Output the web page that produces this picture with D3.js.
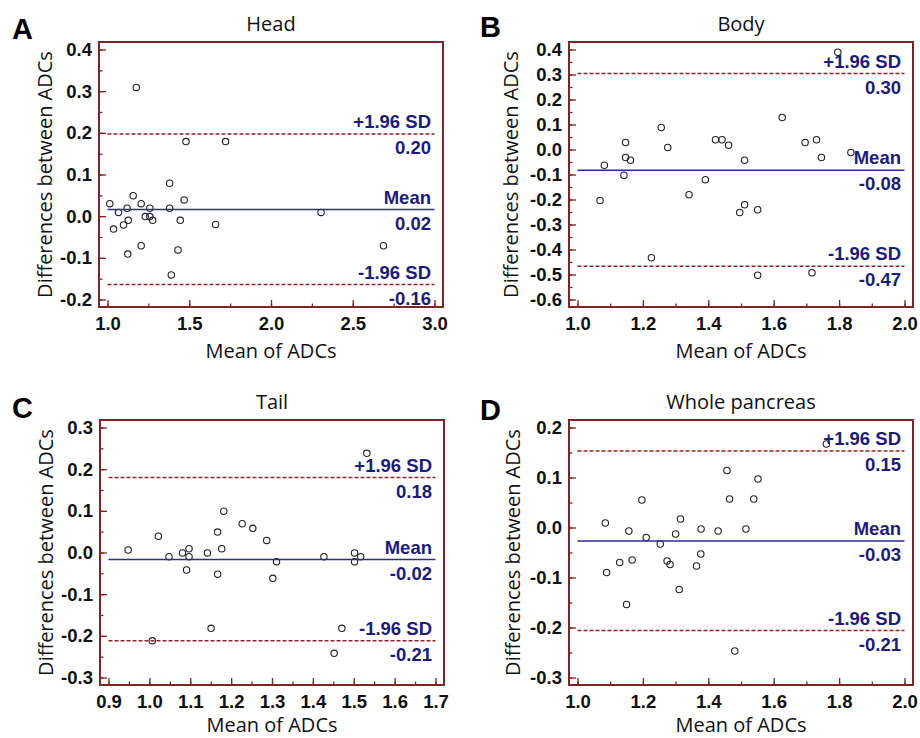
<!DOCTYPE html>
<html>
<head>
<meta charset="utf-8">
<script src="https://cdn.jsdelivr.net/npm/d3@7"></script>
<style>
  body { margin: 0; background: #fff; }
</style>
</head>
<body>
<div id="my_dataviz"></div>
<script>

// A - Head
var headX = [1.014, 1.037, 1.067, 1.098, 1.120, 1.127, 1.124, 1.157, 1.176, 1.206, 1.206, 1.231, 1.259,
  1.259, 1.276, 1.380, 1.380, 1.390, 1.431, 1.445, 1.469, 1.480, 1.661, 1.722, 2.306, 2.688]
var headY = [0.030, -0.031, 0.009, -0.021, 0.019, -0.010, -0.091, 0.049, 0.309, 0.030, -0.071, -0.001, 0.019,
  -0.001, -0.010, 0.079, 0.019, -0.141, -0.081, -0.010, 0.039, 0.179, -0.020, 0.179, 0.009, -0.071]
var headLines = [0.197, 0.016, -0.164]   // +1.96 SD, mean, -1.96 SD
var headXTicks = [1.0, 1.5, 2.0, 2.5, 3.0]
var headYTicks = [-0.2, -0.1, 0.0, 0.1, 0.2, 0.3, 0.4]

// B - Body
var bodyX = [1.069, 1.082, 1.142, 1.147, 1.147, 1.162, 1.226, 1.256, 1.276, 1.341, 1.391, 1.422, 1.442,
  1.462, 1.496, 1.511, 1.511, 1.551, 1.551, 1.626, 1.696, 1.717, 1.731, 1.746, 1.796, 1.836]
var bodyY = [-0.204, -0.063, -0.103, 0.028, -0.032, -0.043, -0.433, 0.088, 0.008, -0.181, -0.121, 0.039, 0.039,
  0.017, -0.252, -0.043, -0.221, -0.241, -0.503, 0.128, 0.028, -0.493, 0.039, -0.032, 0.389, -0.012]
var bodyLines = [0.304, -0.083, -0.467]
var bodyXTicks = [1.0, 1.2, 1.4, 1.6, 1.8, 2.0]
var bodyYTicks = [-0.6, -0.5, -0.4, -0.3, -0.2, -0.1, 0.0, 0.1, 0.2, 0.3, 0.4]

// C - Tail
var tailX = [0.948, 1.007, 1.022, 1.048, 1.081, 1.097, 1.097, 1.091, 1.142, 1.151, 1.167, 1.167, 1.177,
  1.182, 1.227, 1.253, 1.287, 1.302, 1.311, 1.427, 1.452, 1.471, 1.502, 1.502, 1.517, 1.532]
var tailY = [0.006, -0.212, 0.039, -0.010, -0.001, 0.009, -0.010, -0.042, -0.001, -0.182, 0.049, -0.052, 0.009,
  0.099, 0.069, 0.058, 0.029, -0.062, -0.022, -0.010, -0.242, -0.182, -0.001, -0.022, -0.010, 0.238]
var tailLines = [0.180, -0.017, -0.212]
var tailXTicks = [0.9, 1.0, 1.1, 1.2, 1.3, 1.4, 1.5, 1.6, 1.7]
var tailYTicks = [-0.3, -0.2, -0.1, 0.0, 0.1, 0.2, 0.3]

// D - Whole pancreas
var wholeX = [1.085, 1.089, 1.129, 1.150, 1.157, 1.167, 1.197, 1.210, 1.253, 1.274, 1.283, 1.300, 1.311,
  1.315, 1.364, 1.377, 1.378, 1.430, 1.457, 1.465, 1.481, 1.515, 1.539, 1.552, 1.761]
var wholeY = [0.009, -0.090, -0.070, -0.154, -0.007, -0.065, 0.055, -0.020, -0.033, -0.067, -0.074, -0.013, -0.124,
  0.017, -0.077, -0.053, -0.003, -0.007, 0.114, 0.057, -0.247, -0.003, 0.057, 0.097, 0.167]
var wholeLines = [0.153, -0.027, -0.206]
var wholeXTicks = [1.0, 1.2, 1.4, 1.6, 1.8, 2.0]
var wholeYTicks = [-0.3, -0.2, -0.1, 0.0, 0.1, 0.2]

var lineLabels = ["+1.96 SD", "Mean", "-1.96 SD"]

var frameColor = "#7a2626"
var navy = "#1c1c78"

var width = 920, height = 738
var W = 344, H = 265, padX = 8.5, padY = 7.5

var svg = d3.select("#my_dataviz")
  .append("svg")
    .attr("width", width)
    .attr("height", height)

var panels = [
  {letter: "A", lx: 12, ly: 39, title: "Head", left: 99, top: 42, ylab: -47, xlab: 51,
   x: headX, y: headY, lines: headLines, xTicks: headXTicks, yTicks: headYTicks, xMinor: 0.25, yMinor: 0.05},
  {letter: "B", lx: 480, ly: 37, title: "Body", left: 569, top: 42, ylab: -51, xlab: 51,
   x: bodyX, y: bodyY, lines: bodyLines, xTicks: bodyXTicks, yTicks: bodyYTicks, xMinor: 0.1, yMinor: 0.05},
  {letter: "C", lx: 12, ly: 418, title: "Tail", left: 100, top: 420, ylab: -47, xlab: 47,
   x: tailX, y: tailY, lines: tailLines, xTicks: tailXTicks, yTicks: tailYTicks, xMinor: 0.05, yMinor: 0.05},
  {letter: "D", lx: 480, ly: 420, title: "Whole pancreas", left: 569, top: 420, ylab: -49, xlab: 47,
   x: wholeX, y: wholeY, lines: wholeLines, xTicks: wholeXTicks, yTicks: wholeYTicks, xMinor: 0.1, yMinor: 0.05}
]

function fmt1(d) { return d.toFixed(1) }

function minorTicks(ticks, step) {
  var out = []
  var lo = ticks[0], hi = ticks[ticks.length - 1]
  var n = Math.round((hi - lo) / step)
  for (var i = 0; i <= n; i++) out.push(lo + i * step)
  return out
}

panels.forEach(function(p) {

  // panel letter
  svg.append("text")
    .attr("x", p.lx)
    .attr("y", p.ly)
    .style("font-family", "'Liberation Sans', Arial, sans-serif")
    .style("font-weight", "bold")
    .style("font-size", "29px")
    .attr("fill", "#000")
    .text(p.letter)

  var g = svg.append("g")
    .attr("transform", "translate(" + p.left + "," + p.top + ")")

  var x = d3.scaleLinear()
    .domain([p.xTicks[0], p.xTicks[p.xTicks.length - 1]])
    .range([padX, W - padX])

  var y = d3.scaleLinear()
    .domain([p.yTicks[0], p.yTicks[p.yTicks.length - 1]])
    .range([H - padY, padY])

  // minor ticks
  g.append("g")
    .attr("class", "minor")
    .call(d3.axisLeft(y).tickValues(minorTicks(p.yTicks, p.yMinor)).tickSize(-3.5).tickFormat(""))
  g.append("g")
    .attr("class", "minor")
    .attr("transform", "translate(0," + H + ")")
    .call(d3.axisBottom(x).tickValues(minorTicks(p.xTicks, p.xMinor)).tickSize(-3.5).tickFormat(""))

  // major ticks
  g.append("g")
    .attr("class", "major")
    .call(d3.axisLeft(y).tickValues(p.yTicks).tickSize(-7).tickPadding(7).tickFormat(fmt1))
  g.append("g")
    .attr("class", "major")
    .attr("transform", "translate(0," + H + ")")
    .call(d3.axisBottom(x).tickValues(p.xTicks).tickSize(-7).tickPadding(10).tickFormat(fmt1))

  g.selectAll(".domain").remove()
  g.selectAll(".tick line")
    .attr("stroke", frameColor)
    .attr("stroke-width", 1.3)
  g.selectAll(".tick text")
    .attr("fill", "#111")
    .style("font-family", "'Liberation Sans', Arial, sans-serif")
    .style("font-weight", "bold")
    .style("font-size", "18.5px")

  // frame
  g.append("rect")
    .attr("x", 0)
    .attr("y", 0)
    .attr("width", W)
    .attr("height", H)
    .attr("fill", "none")
    .attr("stroke", frameColor)
    .attr("stroke-width", 2)

  // points
  g.selectAll("circle")
    .data(p.x.map(function(v, i) { return [v, p.y[i]] }))
    .enter()
    .append("circle")
      .attr("cx", function(d) { return x(d[0]) })
      .attr("cy", function(d) { return y(d[1]) })
      .attr("r", 3.2)
      .attr("fill", "none")
      .attr("stroke", "#222")
      .attr("stroke-width", 1.1)

  // limits of agreement and mean
  var x0 = x.range()[0], x1 = x.range()[1]
  p.lines.forEach(function(v, i) {
    g.append("line")
      .attr("x1", x0)
      .attr("x2", x1)
      .attr("y1", y(v))
      .attr("y2", y(v))
      .attr("stroke", i == 1 ? "#2b2b95" : "#8b2424")
      .attr("stroke-width", 1.5)
      .attr("stroke-dasharray", i == 1 ? null : "4,2")

    g.append("text")
      .attr("x", x1 - 3.5)
      .attr("y", y(v) - 6)
      .attr("text-anchor", "end")
      .attr("fill", navy)
      .style("font-family", "'Liberation Sans', Arial, sans-serif")
      .style("font-weight", "bold")
      .style("font-size", "18.5px")
      .text(lineLabels[i])

    g.append("text")
      .attr("x", x1 - 3.5)
      .attr("y", y(v) + 20)
      .attr("text-anchor", "end")
      .attr("fill", navy)
      .style("font-family", "'Liberation Sans', Arial, sans-serif")
      .style("font-weight", "bold")
      .style("font-size", "18.5px")
      .text(v.toFixed(2))
  })

  // title
  g.append("text")
    .attr("x", W / 2)
    .attr("y", -11)
    .attr("text-anchor", "middle")
    .style("font-family", "'Open Sans', sans-serif")
    .style("font-size", "20px")
    .attr("fill", "#111")
    .text(p.title)

  // axis titles
  g.append("text")
    .attr("x", W / 2)
    .attr("y", H + p.xlab)
    .attr("text-anchor", "middle")
    .style("font-family", "'Open Sans', sans-serif")
    .style("font-size", "20px")
    .attr("fill", "#111")
    .text("Mean of ADCs")

  g.append("text")
    .attr("transform", "translate(" + p.ylab + "," + (H / 2) + ")rotate(-90)")
    .attr("text-anchor", "middle")
    .style("font-family", "'Open Sans', sans-serif")
    .style("font-size", "20px")
    .attr("fill", "#111")
    .text("Differences between ADCs")
})

</script>
</body>
</html>
